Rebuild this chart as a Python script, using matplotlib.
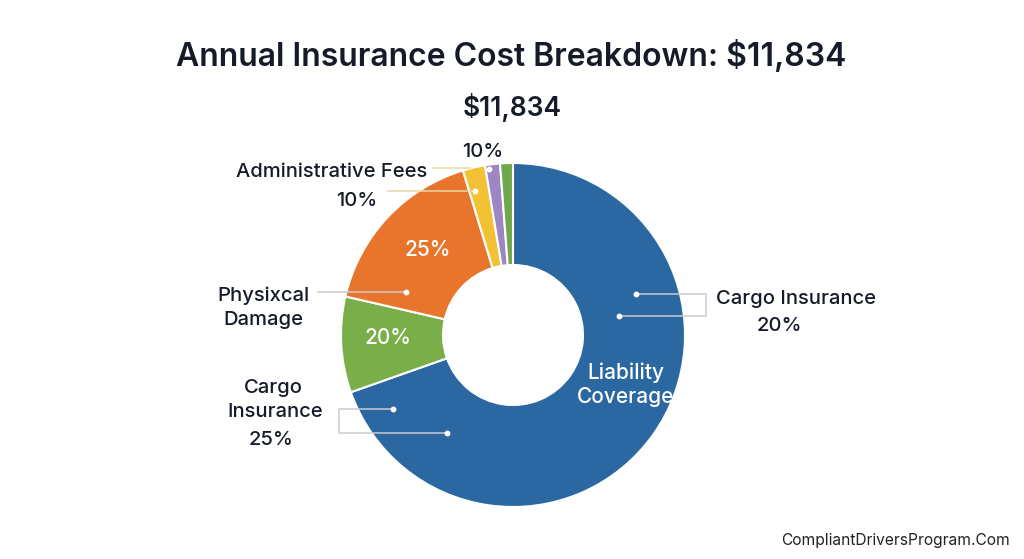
import matplotlib
matplotlib.use("Agg")
import matplotlib.pyplot as plt
from matplotlib.lines import Line2D

# ---- data ----
segments = ["Liability Coverage", "Physical Damage", "Cargo Insurance",
            "Administrative Fees", "Other A", "Other B"]
shares = [69.6, 9.0, 16.7, 2.1, 1.4, 1.2]
colors = ["#2b67a1", "#7aae49", "#e8752b", "#f3c234", "#9d86c3", "#70a84b"]
title_text = "Annual Insurance Cost Breakdown: $11,834"
subtitle_text = "$11,834"
inner_labels = ["Liability\nCoverage", "20%", "25%"]
footer_text = "CompliantDriversProgram.Com"

W, H = 1024, 559
DARK = "#151b28"
plt.rcParams['font.family'] = ['Inter', 'DejaVu Sans']

fig = plt.figure(figsize=(W / 100, H / 100), dpi=100)
fig.patch.set_facecolor("white")

cx, cy, R = 513, 335, 172
ax = fig.add_axes([(cx - R) / W, (H - cy - R) / H, 2 * R / W, 2 * R / H])

ax.pie(shares, colors=colors, startangle=90, counterclock=False, radius=1,
       wedgeprops=dict(width=1 - 70 / R, edgecolor="white", linewidth=1.5))
ax.set_xlim(-1, 1)
ax.set_ylim(-1, 1)
ax.set_aspect("equal")
ax.axis("off")

def d(px, py):
    return (px - cx) / R, (cy - py) / R

def f(px, py):
    return px / W, 1 - py / H

# inner labels
for lab, (px, py) in zip(inner_labels, [(626, 385), (388, 338), (428, 250)]):
    x, y = d(px, py)
    ax.text(x, y, lab, color="white", fontsize=15, fontweight="medium",
            ha="center", va="center", linespacing=1.25)

# title
fig.text(*f(511, 56), title_text, fontsize=23, fontweight="semibold",
         color=DARK, ha="center", va="center")
fig.text(*f(512, 107), subtitle_text, fontsize=19, fontweight="semibold",
         color=DARK, ha="center", va="center")

# outside labels
outside = [
    ("Administrative Fees", 332, 172),
    ("10%", 357, 201),
    ("10%", 483, 152),
    ("Cargo Insurance", 796, 299),
    ("20%", 779, 326),
    ("Physixcal", 263, 296),
    ("Damage", 263, 320),
    ("Cargo", 273, 388),
    ("Insurance", 275, 412),
    ("25%", 271, 440),
]
for txt, px, py in outside:
    fig.text(*f(px, py), txt, fontsize=14.5, fontweight="medium", color=DARK,
             ha="center", va="center")

fig.text(*f(895, 541), footer_text, fontsize=11.2, color="#222222",
         ha="center", va="center")

# leader lines (figure pixel coords)
def line(pts, color="#c9ccd1"):
    xs = [p[0] / W for p in pts]
    ys = [1 - p[1] / H for p in pts]
    fig.add_artist(Line2D(xs, ys, color=color, lw=1.1, transform=fig.transFigure))

def dot(px, py):
    fig.add_artist(Line2D([px / W], [1 - py / H], marker="o", ms=3.2,
                          color="white", lw=0, transform=fig.transFigure))

line([(433, 168), (470, 168)], "#e3d9a8")
line([(388, 191), (475, 191)], "#e3d9a8")
dot(475, 191)
dot(489, 169)
line([(636, 294), (706, 294), (706, 316), (619, 316)])
dot(636, 294)
dot(619, 316)
line([(318, 292), (406, 292)])
dot(406, 292)
line([(393, 409), (339, 409), (339, 433), (447, 433)])
dot(393, 409)
dot(447, 433)

fig.savefig("out.png", dpi=100, facecolor="white")
